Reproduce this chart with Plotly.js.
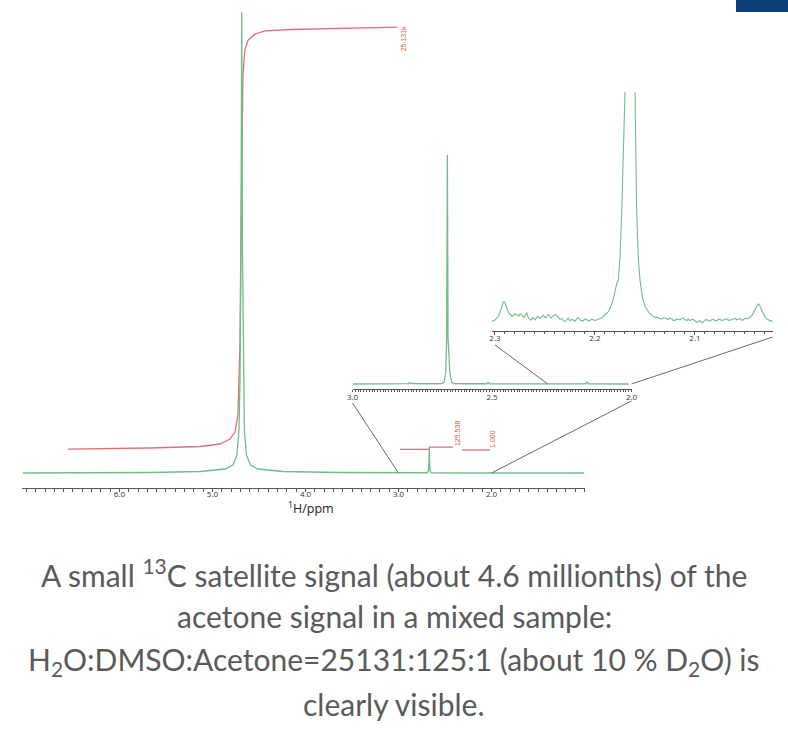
<!DOCTYPE html>
<html>
<head>
<meta charset="utf-8">
<script src="https://cdn.plot.ly/plotly-3.0.1.min.js"></script>
<style>
html,body{margin:0;padding:0;background:#fff;}
#chart{width:788px;height:738px;}
</style>
</head>
<body>
<div id="chart"></div>
<script>
// ---------- DATA ----------
// Main 1H spectrum (ppm, relative intensity; water peak = 100)
const mainPpm = [7.04, 6.20, 5.67, 5.13, 4.866, 4.78, 4.737, 4.715, 4.704, 4.694, 4.686, 4.678, 4.668, 4.657, 4.635, 4.592, 4.511, 4.242, 3.629, 3.0, 2.69, 2.676, 2.671, 2.669, 2.667, 2.662, 2.648, 2.3, 1.005];
const mainInt = [0, 0.05, 0.11, 0.33, 0.87, 1.74, 3.9, 9.33, 20.2, 48.4, 100, 48.4, 20.2, 9.33, 3.9, 1.74, 0.87, 0.33, 0.11, 0.03, 0.05, 0.6, 2.5, 5.2, 2.5, 0.6, 0.05, 0, 0];

// Integral curve of the water region
const waterIntPpm = [6.554, 5.672, 5.134, 4.919, 4.812, 4.758, 4.726, 4.704, 4.694, 4.683, 4.672, 4.651, 4.618, 4.543, 4.435, 4.167, 3.629, 3.015];
const waterIntVal = [5.2, 5.42, 5.75, 6.29, 7.37, 8.89, 12.58, 28.85, 52.7, 74.4, 86.3, 91.8, 93.9, 95.2, 95.9, 96.2, 96.5, 96.7];
// Integral of DMSO region
const dmsoIntPpm = [2.984, 2.675, 2.665, 2.414];
const dmsoIntVal = [5.14, 5.14, 5.6, 5.6];
// Integral of acetone region
const acetIntPpm = [2.317, 2.016];
const acetIntVal = [5.0, 5.0];
const integralLabels = ["25.131k", "125.538", "1.000"];

// Inset 1 (3.0 - 2.0 ppm), DMSO peak = 100
const inset1Ppm = [2.999, 2.85, 2.80, 2.794, 2.788, 2.70, 2.68, 2.672, 2.666, 2.6625, 2.660, 2.6575, 2.651, 2.6445, 2.636, 2.60, 2.52, 2.514, 2.508, 2.40, 2.30, 2.165, 2.159, 2.153, 2.01];
const inset1Int = [0, 0.1, 0.2, 0.6, 0.2, 0.1, 0.15, 0.7, 4.8, 20, 100, 20, 4.8, 0.7, 0.15, 0.1, 0.1, 0.7, 0.1, 0.05, 0.05, 0.1, 0.8, 0.1, 0];

// Inset 2 (2.30 - 2.02 ppm), acetone with 13C satellites
const inset2Ppm = [2.3033, 2.3015, 2.300, 2.2985, 2.2967, 2.2955, 2.2943, 2.2933, 2.2923, 2.2915, 2.2907, 2.2898, 2.289, 2.288, 2.287, 2.2857, 2.2843, 2.283, 2.2817, 2.2803, 2.279, 2.2777, 2.2763, 2.275, 2.2737, 2.2723, 2.271, 2.2697, 2.2683, 2.2673, 2.2663, 2.265, 2.2637, 2.2623, 2.261, 2.2597, 2.2583, 2.257, 2.2557, 2.2543, 2.253, 2.2517, 2.2503, 2.249, 2.2477, 2.2463, 2.245, 2.2437, 2.2423, 2.241, 2.2397, 2.2387, 2.2377, 2.2363, 2.235, 2.2333, 2.2317, 2.23, 2.2283, 2.2267, 2.225, 2.2233, 2.2217, 2.22, 2.2183, 2.2167, 2.215, 2.2133, 2.2117, 2.21, 2.2083, 2.2067, 2.205, 2.2033, 2.2017, 2.2, 2.1983, 2.1967, 2.195, 2.1933, 2.1917, 2.19, 2.1883, 2.1867, 2.185, 2.1837, 2.1823, 2.181, 2.18, 2.1783, 2.1767, 2.175, 2.1733, 2.17, 2.165, 2.16, 2.1583, 2.1567, 2.155, 2.1525, 2.15, 2.1458, 2.1417, 2.14, 2.1383, 2.1367, 2.135, 2.1333, 2.1317, 2.13, 2.1283, 2.1267, 2.125, 2.1233, 2.1217, 2.12, 2.1183, 2.1167, 2.115, 2.1133, 2.1117, 2.11, 2.1083, 2.1067, 2.105, 2.1033, 2.1017, 2.1, 2.0983, 2.0967, 2.095, 2.0933, 2.0917, 2.09, 2.0883, 2.0867, 2.085, 2.0833, 2.0817, 2.08, 2.0783, 2.0767, 2.075, 2.0733, 2.0717, 2.07, 2.0683, 2.0667, 2.065, 2.0633, 2.0617, 2.06, 2.0583, 2.0567, 2.055, 2.0533, 2.0517, 2.05, 2.0483, 2.0467, 2.045, 2.0433, 2.0417, 2.0402, 2.0387, 2.0375, 2.0363, 2.0352, 2.034, 2.0325, 2.031, 2.0295, 2.028, 2.0265, 2.025, 2.0237, 2.0223];
const inset2Int = [-0.8, -0.3, 0, 0.9, 1.7, 3.2, 5, 6.8, 8.3, 9.1, 9.2, 8.6, 7.5, 5.6, 4.2, 3.1, 2.8, 1.9, 2.2, 3.1, 3, 2.3, 2, 3.0, 2.7, 1.9, 1.3, 2.4, 3.7, 2.2, 0.8, 0.3, 0, 1.2, 0.7, 0.2, 1.3, 1.9, 0.8, 1.1, 1.8, 2.4, 1.5, 1.1, 2.2, 2.6, 1.5, 1.0, 1.8, 2.3, 2.8, 2.4, 1.7, 0.9, 0.3, 0.8, -0.3, -0.8, 0.2, 0.9, -0.5, 0.3, 0, -0.7, 0.7, 1.1, 0, -0.4, -0.5, 0.6, 0.3, -0.6, -0.3, 0.4, 0.2, -0.2, 0, 0.5, 0.7, 1.0, 1.7, 2.3, 3.3, 4.2, 5.8, 7.2, 9.2, 12, 15, 18, 20, 31, 53.5, 114, 1500, 114, 53.5, 31, 20, 11, 6.7, 3.5, 1.8, 1.2, 1.5, 1.0, 0.6, 0.5, 1.1, 1.0, 0.4, 0.2, 0.9, 0.6, -0.2, -0.2, 0.5, 0.4, 0.1, 0.8, 1.0, 0.1, -0.3, 0.5, -0.3, 0.2, 0.3, -0.4, -1.2, -0.8, -0.5, -1.3, -1.0, 0.0, 0.2, -0.4, -0.6, 0.1, 0.3, -0.2, -0.4, 0.3, 0.4, -0.3, -0.1, 0.4, 0.6, 0.0, -0.2, 0.3, 0.5, 0.8, 0.1, 0.6, 0.7, -0.1, 0.0, 0.9, 0.6, 0.8, 1.3, 2.2, 3.5, 5.0, 6.5, 7.6, 8.0, 7.3, 6.0, 4.0, 2.5, 1.2, 0.5, 0.2, -0.6, -0.2, -1.0];

// Tick labels
const mainTicks = [6.0, 5.0, 4.0, 3.0, 2.0];
const inset1Ticks = [3.0, 2.5, 2.0];
const inset2Ticks = [2.3, 2.2, 2.1];

const captionLines = [
  "A small <sup>13</sup>C satellite signal (about 4.6 millionths) of the",
  "acetone signal in a mixed sample:",
  "H<sub>2</sub>O:DMSO:Acetone=25131:125:1 (about 10 % D<sub>2</sub>O) is",
  "clearly visible."
];

// ---------- STYLE ----------
const GREEN = '#6fbd8b';
const RED = '#e07078';
const AXC = '#555';
const tickFont = {family: 'Open Sans', size: 8, color: '#333'};

function axisX(domain, range, anchor, ticks, minorDtick, majLen, minLen, standoff) {
  return {
    domain: domain, range: range, anchor: anchor,
    showline: true, linecolor: AXC, linewidth: 1,
    ticks: 'outside', ticklen: majLen, tickcolor: AXC, tickwidth: 1,
    tickmode: 'array', tickvals: ticks, ticktext: ticks.map(v => v.toFixed(1)),
    tickfont: tickFont, ticklabelstandoff: standoff,
    showgrid: false, zeroline: false, fixedrange: true,
    minor: {tickmode: 'linear', tick0: 0, dtick: minorDtick, ticks: 'outside', ticklen: minLen, tickcolor: AXC, tickwidth: 1, showgrid: false}
  };
}
function axisY(domain, range) {
  return {domain: domain, range: range, visible: false, fixedrange: true};
}

const layout = {
  width: 788, height: 738,
  margin: {l: 0, r: 0, t: 0, b: 0},
  paper_bgcolor: '#ffffff', plot_bgcolor: 'rgba(0,0,0,0)',
  showlegend: false,
  xaxis: axisX([0.02792, 0.74239], [7.048, 0.995], 'y', mainTicks, 0.1, 3, 3, -5),
  yaxis: axisY([0.33875, 0.99322], [-3.254, 101.52]),
  xaxis2: axisX([0.44734, 0.80140], [3.0, 2.0], 'y2', inset1Ticks, 0.01, 2, 2, -2),
  yaxis2: axisY([0.47223, 0.79675], [-2.40, 102.18]),
  xaxis3: axisX([0.62398, 0.98058], [2.3033, 2.0223], 'y3', inset2Ticks, 0.01, 3, 2, -4),
  yaxis3: axisY([0.55149, 0.87534], [-5.5, 114]),
  annotations: [],
  shapes: []
};

// data -> paper helper (for connector lines between panels)
function toPaper(xName, yName, xv, yv) {
  const xa = layout[xName], ya = layout[yName];
  const fx = (xv - xa.range[0]) / (xa.range[1] - xa.range[0]);
  const fy = (yv - ya.range[0]) / (ya.range[1] - ya.range[0]);
  return [xa.domain[0] + fx * (xa.domain[1] - xa.domain[0]),
          ya.domain[0] + fy * (ya.domain[1] - ya.domain[0])];
}
const connectors = [
  [['xaxis', 'yaxis', 3.0, 0], ['xaxis2', 'yaxis2', 3.0, -8.3]],
  [['xaxis', 'yaxis', 2.0, 0], ['xaxis2', 'yaxis2', 2.0, -7.4]],
  [['xaxis2', 'yaxis2', 2.3, 0], ['xaxis3', 'yaxis3', 2.3, -12.5]],
  [['xaxis2', 'yaxis2', 2.0, 0], ['xaxis3', 'yaxis3', 2.0223, -8.5]]
];
connectors.forEach(c => {
  const a = toPaper.apply(null, c[0]);
  const b = toPaper.apply(null, c[1]);
  layout.shapes.push({type: 'line', xref: 'paper', yref: 'paper', x0: a[0], y0: a[1], x1: b[0], y1: b[1], line: {color: '#6a6a6a', width: 1}});
});

// corner block
layout.shapes.push({type: 'rect', xref: 'paper', yref: 'paper', x0: 736/788, x1: 1, y0: 1 - 12/738, y1: 1, fillcolor: '#0d3f7d', line: {width: 0}});

// integral labels (rotated)
const labelPos = [[2.950, 94.1], [2.371, 8.46], [1.984, 7.4]];
integralLabels.forEach((t, i) => {
  layout.annotations.push({xref: 'x', yref: 'y', x: labelPos[i][0], y: labelPos[i][1], text: t, showarrow: false, textangle: -90, font: {family: 'Liberation Sans', size: 7, color: '#d9534f'}});
});

// axis label
layout.annotations.push({xref: 'paper', yref: 'paper', x: 311/788, y: 1 - 508/738, xanchor: 'center', yanchor: 'middle', text: '<sup>1</sup>H/ppm', showarrow: false, font: {family: 'Open Sans', size: 12.5, color: '#222'}});

// caption
const capY = [573, 616, 661, 704];
captionLines.forEach((t, i) => {
  layout.annotations.push({xref: 'paper', yref: 'paper', x: 0.5, y: 1 - capY[i]/738, xanchor: 'center', yanchor: 'middle', text: t, showarrow: false, font: {family: 'Lato', size: 30, color: '#5a5a5a'}});
});

const lineG = {color: GREEN, width: 1.3};
const lineR = {color: RED, width: 1.3};
const traces = [
  {x: waterIntPpm, y: waterIntVal, xaxis: 'x', yaxis: 'y', mode: 'lines', line: lineR, hoverinfo: 'skip'},
  {x: dmsoIntPpm, y: dmsoIntVal, xaxis: 'x', yaxis: 'y', mode: 'lines', line: lineR, hoverinfo: 'skip'},
  {x: acetIntPpm, y: acetIntVal, xaxis: 'x', yaxis: 'y', mode: 'lines', line: lineR, hoverinfo: 'skip'},
  {x: mainPpm, y: mainInt, xaxis: 'x', yaxis: 'y', mode: 'lines', line: lineG, hoverinfo: 'skip'},
  {x: inset1Ppm, y: inset1Int, xaxis: 'x2', yaxis: 'y2', mode: 'lines', line: lineG, hoverinfo: 'skip'},
  {x: inset2Ppm, y: inset2Int, xaxis: 'x3', yaxis: 'y3', mode: 'lines', line: {color: GREEN, width: 1.1}, hoverinfo: 'skip'}
];

Plotly.newPlot('chart', traces, layout, {displayModeBar: false, staticPlot: true});
</script>
</body>
</html>
